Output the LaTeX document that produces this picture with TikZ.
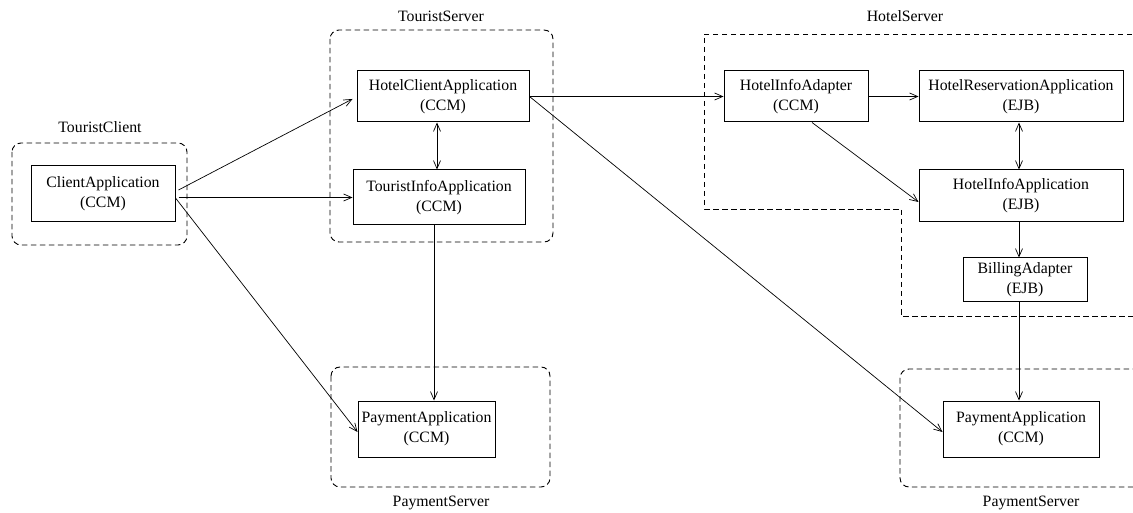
\documentclass[tikz,border=0pt]{standalone}
\usepackage{fontspec}
\setmainfont{Liberation Serif}
\usetikzlibrary{arrows.meta}
\begin{document}
\begin{tikzpicture}[x=1pt,y=-1pt,
  comp/.style={draw,line width=1pt,rectangle,align=center,inner sep=0pt,
    font=\fontsize{15.8}{20}\selectfont},
  group/.style={draw,line width=0.9pt,dash pattern=on 5.5pt off 3.5pt,rounded corners=9pt},
  grouplabel/.style={font=\fontsize{15.8}{19}\selectfont,inner sep=0pt},
  link/.style={line width=0.7pt,-{Straight Barb[length=8pt,width=7pt]}},
  both/.style={line width=0.7pt,{Straight Barb[length=8pt,width=7pt]}-{Straight Barb[length=8pt,width=7pt]}}]
\useasboundingbox (0,0) rectangle (1133,513);
\clip (0,0) rectangle (1133,513);

% deployment containers
\draw[group] (12,143) rectangle (187,245);
\draw[group] (330,30) rectangle (553,242);
\draw[group] (331,367) rectangle (550,487);
\draw[group] (900,369) rectangle (1150,487);
\draw[line width=0.9pt,dash pattern=on 5.5pt off 3.5pt]
  (1150,34) -- (704,34) -- (704,209) -- (901,209) -- (901,316) -- (1150,316);

\node[grouplabel] (lTC) at (100,127) {TouristClient};
\node[grouplabel] (lTS) at (441,16) {TouristServer};
\node[grouplabel] (lHS) at (905,16) {HotelServer};
\node[grouplabel] (lPS1) at (441,503) {PaymentServer};
\node[grouplabel] (lPS2) at (1031,503) {PaymentServer};

% components
\node[comp,minimum width=144pt,minimum height=56pt] (ca) at (103,194) {ClientApplication\\(CCM)};
\node[comp,minimum width=172pt,minimum height=51pt] (hca) at (443,96.5) {HotelClientApplication\\(CCM)};
\node[comp,minimum width=172pt,minimum height=55pt] (tia) at (439,197.5) {TouristInfoApplication\\(CCM)};
\node[comp,minimum width=137pt,minimum height=56pt] (pa1) at (426.5,429) {PaymentApplication\\(CCM)};
\node[comp,minimum width=144pt,minimum height=51pt] (hia) at (796,96.5) {HotelInfoAdapter\\(CCM)};
\node[comp,minimum width=204pt,minimum height=51pt] (hra) at (1021,96.5) {HotelReservationApplication\\(EJB)};
\node[comp,minimum width=204pt,minimum height=52pt] (hinfo) at (1021,196) {HotelInfoApplication\\(EJB)};
\node[comp,minimum width=124pt,minimum height=43pt] (ba) at (1025,279.5) {BillingAdapter\\(EJB)};
\node[comp,minimum width=156pt,minimum height=56pt] (pa2) at (1021,429) {PaymentApplication\\(CCM)};

% connectors
\draw[link] ([xshift=3pt,yshift=4pt]ca.east) -- ([xshift=-4pt,yshift=-2.5pt]hca.west);
\draw[link] ([xshift=3pt]ca.east |- tia.west) -- (tia.west);
\draw[link] ([yshift=-4pt]ca.east) -- ([yshift=-3pt]pa1.west);
\draw[both] ([xshift=-6pt]hca.south) -- ([xshift=-6pt]hca.south |- tia.north);
\draw[link] ([xshift=-5pt]tia.south) -- ([xshift=-5pt]tia.south |- pa1.north);
\draw[link] (hca.east) -- (hia.west);
\draw[link] (hca.east) -- ([yshift=-3pt]pa2.west);
\draw[link] (hia.east) -- (hra.west);
\draw[link] ([xshift=16pt]hia.south) -- ([yshift=-6pt]hinfo.west);
\draw[both] ([xshift=-2pt]hra.south) -- ([xshift=-2pt]hra.south |- hinfo.north);
\draw[link] ([xshift=-2pt]hinfo.south) -- ([xshift=-2pt]hinfo.south |- ba.north);
\draw[link] ([xshift=-6pt]ba.south) -- ([xshift=-6pt]ba.south |- pa2.north);
\end{tikzpicture}
\end{document}
